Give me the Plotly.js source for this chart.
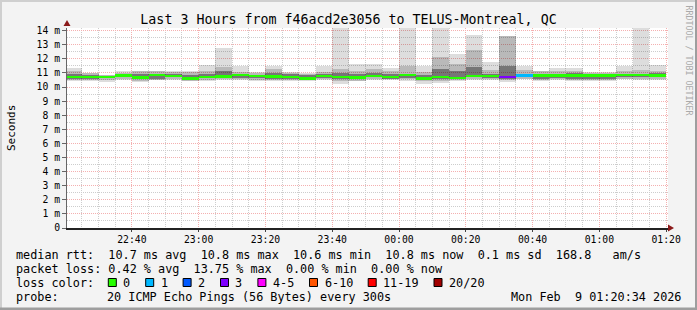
<!DOCTYPE html>
<html>
<head>
<meta charset="utf-8">
<script src="https://cdn.plot.ly/plotly-3.0.1.min.js"></script>
<style>html,body{margin:0;padding:0;background:#f3f3f3;}#chart{width:697px;height:310px;}</style>
</head>
<body>
<div id="chart"></div>
<script>
// ---- data ----
const endTimes = ['22:25','22:30','22:35','22:40','22:45','22:50','22:55','23:00','23:05','23:10','23:15','23:20','23:25','23:30','23:35','23:40','23:45','23:50','23:55','00:00','00:05','00:10','00:15','00:20','00:25','00:30','00:35','00:40','00:45','00:50','00:55','01:00','01:05','01:10','01:15','01:20'];
const maxRtt = [11.33,11.02,10.88,11.10,11.17,11.15,11.15,11.12,11.57,12.75,11.47,11.05,11.52,11.05,10.98,11.47,14.20,11.63,11.63,11.33,14.20,11.52,14.20,12.35,13.67,11.78,13.65,11.47,11.17,11.33,11.38,11.05,11.05,11.52,14.20,11.57];
const p90 = [11.15,11.00,10.85,11.00,11.15,11.10,11.05,11.05,11.15,11.45,11.05,11.00,11.30,11.00,10.95,11.05,11.25,11.10,11.30,11.15,11.50,11.05,12.10,11.60,12.60,11.20,13.60,11.20,11.10,11.10,11.15,11.00,11.00,11.10,11.20,11.10];
const p75 = [10.95,10.85,10.78,10.92,10.95,10.95,10.90,10.85,10.95,11.10,10.90,10.88,11.00,10.90,10.85,10.90,11.00,10.90,11.00,10.90,10.95,10.85,11.30,11.10,11.40,10.95,11.50,10.95,10.95,10.95,10.98,10.90,10.90,10.95,10.95,11.00];
const p25 = [10.60,10.60,10.62,10.72,10.55,10.55,10.68,10.55,10.62,10.65,10.65,10.62,10.60,10.60,10.55,10.65,10.60,10.55,10.70,10.60,10.65,10.55,10.60,10.60,10.70,10.65,10.60,10.70,10.55,10.65,10.60,10.55,10.60,10.70,10.70,10.70];
const p10 = [10.50,10.50,10.50,10.60,10.45,10.50,10.55,10.45,10.50,10.55,10.55,10.50,10.50,10.50,10.50,10.55,10.45,10.45,10.60,10.55,10.55,10.45,10.45,10.50,10.55,10.55,10.50,10.60,10.50,10.55,10.50,10.50,10.50,10.60,10.60,10.60];
const minRtt = [10.42,10.45,10.35,10.50,10.35,10.48,10.50,10.40,10.45,10.50,10.48,10.42,10.45,10.45,10.45,10.50,10.23,10.40,10.50,10.50,10.45,10.23,10.30,10.40,10.50,10.50,10.38,10.55,10.45,10.50,10.45,10.45,10.45,10.55,10.50,10.50];
const medianRtt = [10.70,10.70,10.70,10.83,10.68,10.84,10.80,10.60,10.72,10.74,10.84,10.80,10.74,10.69,10.60,10.80,10.69,10.67,10.80,10.70,10.84,10.60,10.70,10.62,10.80,10.80,10.72,10.83,10.82,10.82,10.82,10.82,10.81,10.84,10.84,10.82];
const lossCount = [0,0,0,0,0,0,0,0,0,0,0,0,0,0,0,0,0,0,0,0,0,0,0,0,0,0,3,1,0,0,0,0,0,0,0,0];

const yTickVals = [0,1,2,3,4,5,6,7,8,9,10,11,12,13,14];
const yTickText = ['0','1 m','2 m','3 m','4 m','5 m','6 m','7 m','8 m','9 m','10 m','11 m','12 m','13 m','14 m'];
const xTickVals = ['2026-02-08 22:40:00','2026-02-08 23:00:00','2026-02-08 23:20:00','2026-02-08 23:40:00','2026-02-09 00:00:00','2026-02-09 00:20:00','2026-02-09 00:40:00','2026-02-09 01:00:00','2026-02-09 01:20:00'];
const xTickText = ['22:40','23:00','23:20','23:40','00:00','00:20','00:40','01:00','01:20'];

const lossLabels = ['0','1','2','3','4-5','6-10','11-19','20/20'];
const lossColors = ['#26ff00','#00b8ff','#0059ff','#7e00ff','#ff00ff','#ff5500','#ff0000','#a10000'];
const rttStats = ['10.7','10.8','10.6','10.8','0.1','168.8'];
const lossStats = ['0.42','13.75','0.00','0.00'];
const titleText = 'Last 3 Hours from f46acd2e3056 to TELUS-Montreal, QC';
const probeText = '20 ICMP Echo Pings (56 Bytes) every 300s';
const dateText = 'Mon Feb  9 01:20:34 2026';
const rangeStart = '2026-02-08 22:20:34';
const rangeEnd = '2026-02-09 01:20:34';

// ---- helpers ----
function fmt(ms){const d=new Date(ms);const p=n=>String(n).padStart(2,'0');
  return d.getUTCFullYear()+'-'+p(d.getUTCMonth()+1)+'-'+p(d.getUTCDate())+' '+p(d.getUTCHours())+':'+p(d.getUTCMinutes())+':'+p(d.getUTCSeconds());}
function endMs(hm){const [h,m]=hm.split(':').map(Number);const day=h>=12?8:9;return Date.UTC(2026,1,day,h,m,0);}
const STEP = 300000;
const xCenters = endTimes.map(t=>fmt(endMs(t)-STEP/2));
const widths = endTimes.map(()=>STEP);
function lossIndex(n){ if(n<=0)return 0; if(n<=1)return 1; if(n<=2)return 2; if(n<=3)return 3; if(n<=5)return 4; if(n<=10)return 5; if(n<=19)return 6; return 7; }

function band(lo, hi, color){
  return {type:'bar', x:xCenters, base:lo, y:hi.map((v,i)=>v-lo[i]), width:widths,
    marker:{color:color, line:{width:0}}, hoverinfo:'skip'};
}
const MED_H = 0.17;
const traces = [
  band(minRtt, maxRtt, 'rgba(0,0,0,0.135)'),
  band(p10, p90, 'rgba(0,0,0,0.16)'),
  band(p25, p75, 'rgba(0,0,0,0.36)'),
  {type:'bar', x:xCenters, base:medianRtt.map(v=>v-MED_H/2), y:medianRtt.map(()=>MED_H), width:widths,
   marker:{color:lossCount.map(n=>lossColors[lossIndex(n)]), line:{width:0}}, hoverinfo:'skip'}
];

// layout pixel helpers
const L=67, R=668, T=28, B=228;
const px=v=>(v-L)/(R-L);
const py=v=>(B-v)/(B-T);
const nb=s=>s.replace(/ /g,'\u00A0');
const MONO='DejaVu Sans Mono';
const CH=7.1; // legend char width

const annotations = [];
const shapes = [];
function txt(x,y,s,opts){annotations.push(Object.assign({xref:'paper',yref:'paper',x:px(x),y:py(y),text:nb(s),showarrow:false,
  xanchor:'left',yanchor:'middle',borderpad:0,borderwidth:0,font:{family:MONO,size:11.8,color:'#000'}},opts||{}));}

// y axis title
txt(11,128,'Seconds',{xanchor:'center',textangle:-90,font:{family:MONO,size:11,color:'#000'}});
// watermark
txt(688.5,60,'RRDTOOL / TOBI OETIKER',{xanchor:'center',textangle:90,font:{family:MONO,size:8.3,color:'#aaaaaa'}});

// legend rows
const row1 = 'median rtt:  '+rttStats[0]+' ms avg  '+rttStats[1]+' ms max  '+rttStats[2]+' ms min  '+rttStats[3]+' ms now  '+rttStats[4]+' ms sd  '+rttStats[5]+'   am/s';
const row2 = 'packet loss: '+lossStats[0]+' % avg  '+lossStats[1]+' % max  '+lossStats[2]+' % min  '+lossStats[3]+' % now';
txt(16,254.5,row1);
txt(16,268.5,row2);
txt(16,282.5,'loss color:');
let sx = 108.3;
lossLabels.forEach((lab,i)=>{
  shapes.push({type:'rect',xref:'paper',yref:'paper',x0:px(sx),x1:px(sx+8),y0:py(286.5),y1:py(278.5),fillcolor:lossColors[i],line:{color:'#000',width:1}});
  txt(sx+15,282.5,lab);
  sx += 15 + lab.length*CH + 15.3;
});
txt(16,296.5,'probe:');
txt(16+13*7.02,296.5,probeText);
txt(681,296.5,dateText,{xanchor:'right'});

// frame
shapes.push({type:'rect',xref:'paper',yref:'paper',x0:px(0),x1:px(2),y0:py(0),y1:py(310),fillcolor:'#cfcfcf',line:{width:0}});
shapes.push({type:'rect',xref:'paper',yref:'paper',x0:px(0),x1:px(697),y0:py(0),y1:py(2),fillcolor:'#cfcfcf',line:{width:0}});
shapes.push({type:'rect',xref:'paper',yref:'paper',x0:px(695),x1:px(697),y0:py(0),y1:py(310),fillcolor:'#9e9e9e',line:{width:0}});
shapes.push({type:'rect',xref:'paper',yref:'paper',x0:px(0),x1:px(697),y0:py(307.5),y1:py(310),fillcolor:'#9e9e9e',line:{width:0}});
// axis arrows
shapes.push({type:'path',xref:'paper',yref:'paper',
  path:'M '+px(63.5)+' '+py(26)+' L '+px(70.5)+' '+py(26)+' L '+px(67)+' '+py(20)+' Z',fillcolor:'#8b1a1a',line:{width:0}});
shapes.push({type:'path',xref:'paper',yref:'paper',
  path:'M '+px(668)+' '+py(224.5)+' L '+px(668)+' '+py(231.5)+' L '+px(674)+' '+py(228)+' Z',fillcolor:'#8b1a1a',line:{width:0}});

const majorGrid = '#f4b0b0';
const minorGrid = '#cdcdcd';
const layout = {
  width:697, height:310,
  margin:{l:L, r:697-R, t:T, b:310-B, pad:0},
  paper_bgcolor:'#f3f3f3', plot_bgcolor:'#ffffff',
  showlegend:false, barmode:'overlay', bargap:0,
  title:{text:titleText, font:{family:MONO,size:13.3,color:'#000'}, x:0.5, xref:'container', xanchor:'center', y:1-19/310, yref:'container', yanchor:'middle'},
  xaxis:{type:'date', range:[rangeStart, rangeEnd], tickmode:'array', tickvals:xTickVals, ticktext:xTickText,
    tickfont:{family:MONO,size:9.75,color:'#000'}, showgrid:true, gridcolor:majorGrid, griddash:'1px,1px', gridwidth:1,
    minor:{tickmode:'linear', tick0:'2026-02-08 22:25:00', dtick:STEP, showgrid:true, gridcolor:minorGrid, griddash:'1px,1px', gridwidth:1},
    showline:true, linecolor:'#222', linewidth:1.5, ticks:'outside', ticklen:2, tickcolor:'#444', zeroline:false, fixedrange:true},
  yaxis:{range:[0, (B-T)/14.1], tickmode:'array', tickvals:yTickVals, ticktext:yTickText,
    tickfont:{family:MONO,size:9.75,color:'#000'}, showgrid:true, gridcolor:majorGrid, griddash:'1px,1px', gridwidth:1,
    minor:{tickmode:'linear', tick0:0, dtick:0.5, showgrid:true, gridcolor:minorGrid, griddash:'1px,1px', gridwidth:1},
    showline:true, linecolor:'#666', linewidth:1, ticks:'outside', ticklen:4, tickcolor:'#666', zeroline:false, fixedrange:true},
  annotations:annotations, shapes:shapes
};
Plotly.newPlot('chart', traces, layout, {staticPlot:true, displayModeBar:false});
</script>
</body>
</html>
